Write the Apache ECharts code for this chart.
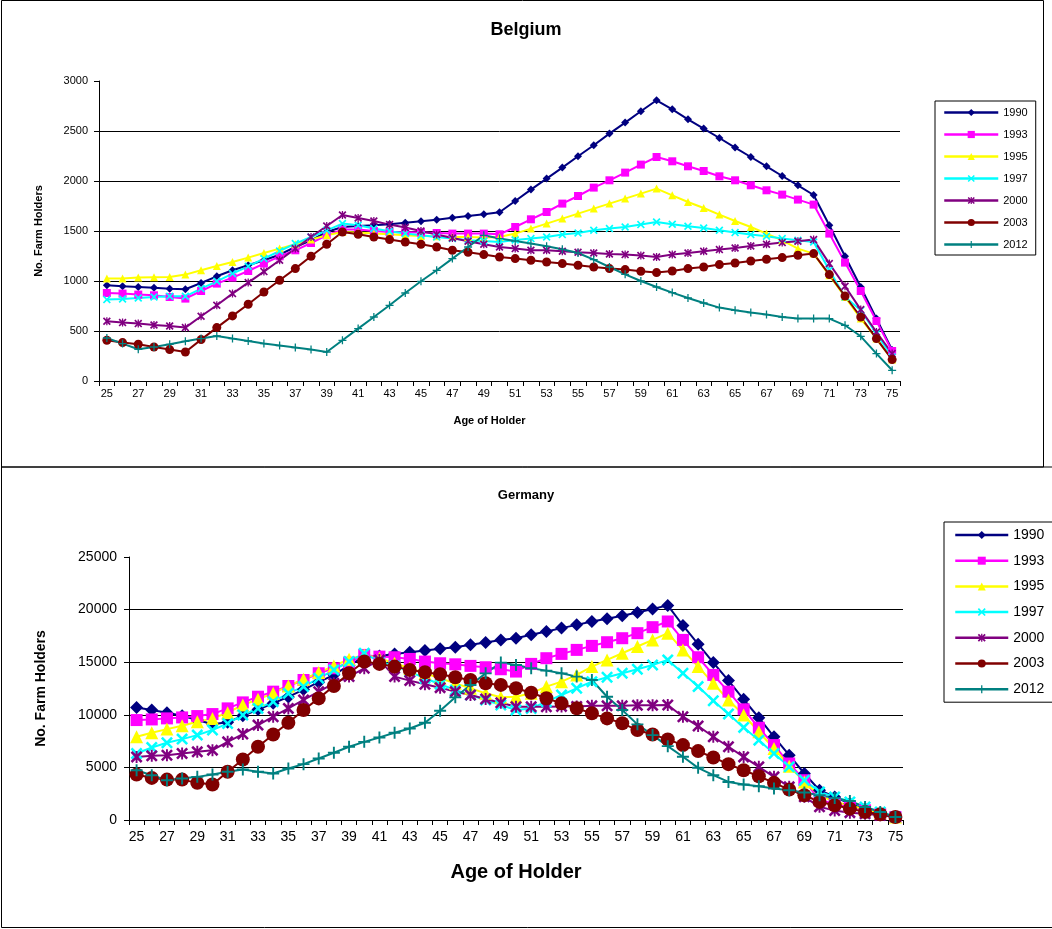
<!DOCTYPE html>
<html>
<head>
<meta charset="utf-8">
<script src="https://cdn.jsdelivr.net/npm/echarts@6/dist/echarts.min.js"></script>
<style>
html,body{margin:0;padding:0;background:#fff;}
#main{width:1052px;height:929px;}
</style>
</head>
<body>
<div id="main"></div>
<script>
// ---- Data ----
var ages = [];
for (var a = 25; a <= 75; a++) ages.push(String(a));
var seriesNames = ['1990', '1993', '1995', '1997', '2000', '2003', '2012'];

var be1990 = [957,947,940,933,923,917, 980,1047,1107,1157,1207,1263,1340,1407,1490, 1540,1550,1557,1567,1583,1597,1613,1633,1650,1667,1687, 1800,1914,2024,2134,2247,2357,2474,2584,2697,2807, 2717,2617,2524,2430,2334,2240,2147,2050,1957,1860, 1557,1247,940,624,310];
var be1993 = [880,874,864,857,840,824, 900,974,1034,1100,1174,1247,1307,1380,1457, 1514,1514,1500,1490,1487,1484,1480,1474,1474,1474,1467, 1540,1617,1690,1774,1850,1934,2007,2084,2164,2240, 2197,2147,2100,2047,2007,1957,1907,1864,1814,1764, 1474,1184,900,600,300];
var be1995 = [1024,1024,1034,1037,1040,1064, 1107,1150,1190,1234,1280,1324,1367,1414,1457, 1490,1484,1474,1467,1457,1450,1447,1440,1440,1434,1440, 1474,1524,1574,1624,1674,1724,1774,1824,1874,1924, 1857,1790,1730,1664,1600,1540,1474,1407,1324,1274, 1057,840,624,424,214];
var be1997 = [814,820,830,840,847,847, 924,997,1074,1147,1224,1300,1374,1440,1507, 1574,1557,1524,1497,1474,1457,1440,1424,1407,1400,1390, 1410,1424,1440,1464,1480,1507,1524,1540,1564,1590, 1567,1547,1530,1507,1484,1464,1447,1424,1407,1390, 1107,840,707,474,240];
var be2000 = [597,584,574,560,550,534, 647,757,874,984,1094,1207,1324,1440,1550, 1660,1630,1600,1564,1534,1500,1464,1430,1397,1367,1340, 1324,1307,1307,1297,1287,1280,1270,1264,1254,1240, 1264,1280,1297,1314,1330,1350,1367,1384,1397,1414, 1174,947,714,490,274];
var be2003 = [407,384,367,340,314,290, 414,534,651,767,890,1007,1124,1247,1367, 1490,1467,1440,1414,1390,1367,1340,1307,1287,1264,1240, 1224,1207,1190,1174,1157,1140,1124,1114,1097,1084, 1100,1124,1140,1164,1180,1200,1217,1234,1257,1274, 1064,850,640,424,214];
var be2012 = [430,374,317,340,367,397, 424,450,424,400,374,354,334,314,290, 407,524,640,757,880,997,1107,1224,1340,1457,1424, 1400,1374,1347,1317,1280,1214,1140,1067,1000,940, 884,830,780,734,707,684,664,640,624,624, 624,557,447,274,107];

var de1990 = [10700,10450,10200,9900,9500,9100, 9300,9900,10500,11100,11700,12400,13100,13800,14700, 15500,15600,15790,15950,16110,16270,16420,16650,16870,17120,17280, 17600,17920,18240,18550,18870,19130,19410,19730,20050,20400, 18490,16710,14960,13250,11470,9720,7910,6160,4420,2830, 2190,1560,1080,600,290];
var de1993 = [9500,9560,9660,9750,9880,10070, 10610,11180,11720,12200,12740,13310,13950,14420,14960, 15690,15530,15470,15310,15060,14900,14800,14650,14520,14330,14110, 14840,15380,15790,16170,16550,16900,17280,17760,18330,18870, 17120,15470,13790,12200,10520,8770,7120,5370,3780,1870, 1560,1240,920,540,290];
var de1995 = [7910,8290,8640,8960,9340,9660, 10200,10930,11470,12040,12740,13380,14010,14650,15280, 15690,15380,14900,14420,13950,13470,12990,12520,12040,11660,11720, 12040,12680,13150,13790,14580,15220,15850,16490,17120,17760, 16170,14580,12990,11410,9980,8390,6800,5120,3620,2350, 1720,1400,990,670,290];
var de1997 = [6320,6890,7340,7690,8070,8550, 9180,9980,10610,11250,12040,12680,13470,14270,15060, 15850,15060,14650,14110,13470,12900,12360,11880,11410,10930,10450, 10610,11250,11880,12520,13150,13570,13950,14330,14740,15220, 13950,12680,11340,10070,8800,7590,6320,5050,3780,2670, 2190,1720,1240,760,290];
var de2000 = [6000,6100,6160,6320,6480,6640, 7430,8170,9020,9820,10610,11410,12200,12990,13630, 14420,15200,13630,13250,12900,12580,12200,11880,11500,11150,10770, 10770,10770,10800,10800,10850,10850,10850,10900,10900,10930, 9820,8930,7910,6960,6000,5050,4100,3150,2200,1250, 900,700,600,450,290];
var de2003 = [4320,4000,3840,3840,3530,3370, 4580,5750,6960,8130,9250,10450,11560,12740,13950, 15060,14840,14580,14270,14050,13860,13570,13310,13000,12840,12520, 12100,11570,11090,10620,10140,9660,9190,8550,8130,7660, 7120,6550,5940,5310,4730,4160,3530,2890,2350,1720, 1400,1080,760,540,290];
var de2012 = [4730,4260,3780,3940,4100,4320, 4580,4800,4580,4420,4890,5310,5850,6390,6960, 7430,7850,8290,8700,9240,10390,11660,12830,13940,14960, 14740,14420,14200,13940,13630,13310,11720,10450,9090,8070,7020, 6010,4960,4260,3620,3370,3210,2990,2830,2610,2350, 2100,1810,1240,760,290];

var belgiumData = [be1990, be1993, be1995, be1997, be2000, be2003, be2012];
var germanyData = [de1990, de1993, de1995, de1997, de2000, de2003, de2012];

// ---- Styles ----
var colors = ['#000080', '#FF00FF', '#FFFF00', '#00FFFF', '#800080', '#800000', '#008080'];
var xPath = 'path://M0,1.5L1.5,0L5,3.5L8.5,0L10,1.5L6.5,5L10,8.5L8.5,10L5,6.5L1.5,10L0,8.5L3.5,5Z';
var starPath = 'path://M0,1.5L1.5,0L5,3.5L8.5,0L10,1.5L6.5,5L10,8.5L8.5,10L5,6.5L1.5,10L0,8.5L3.5,5ZM4.2,0H5.8V10H4.2Z';
var plusPath = 'path://M4.2,0H5.8V4.2H10V5.8H5.8V10H4.2V5.8H0V4.2H4.2Z';
var symbols = ['diamond', 'rect', 'triangle', xPath, starPath, 'circle', plusPath];
var beSizes = [8, 8, 8, 8, 8, 9, 8];
var deSizes = [13, 12, 13, 12, 12, 14, 12];
var FONT = 'Liberation Sans, Arial, sans-serif';

var series = [];
seriesNames.forEach(function (n, i) {
  series.push({
    name: n, type: 'line', xAxisIndex: 0, yAxisIndex: 0,
    data: belgiumData[i], symbol: symbols[i], symbolSize: beSizes[i],
    showAllSymbol: true, color: colors[i],
    lineStyle: { width: 2, color: colors[i] },
    itemStyle: { color: colors[i] }, animation: false
  });
});
seriesNames.forEach(function (n, i) {
  series.push({
    name: n, type: 'line', xAxisIndex: 1, yAxisIndex: 1,
    data: germanyData[i], symbol: symbols[i], symbolSize: deSizes[i],
    showAllSymbol: true, color: colors[i],
    lineStyle: { width: 2, color: colors[i] },
    itemStyle: { color: colors[i] }, animation: false
  });
});

function plainNum(v) { return String(v); }

function xAxisCfg(gridIndex, fs, nameFs, nameGap, margin, namePad) {
  return {
    type: 'category', gridIndex: gridIndex, data: ages, boundaryGap: true,
    name: 'Age of Holder', nameLocation: 'middle', nameGap: nameGap,
    nameTextStyle: { fontFamily: FONT, fontWeight: 'bold', fontSize: nameFs, color: '#000', padding: namePad },
    axisLine: { lineStyle: { color: '#000', width: 1 } },
    axisTick: { show: true, interval: 0, length: 5, lineStyle: { color: '#000' } },
    axisLabel: { interval: 1, fontFamily: FONT, fontSize: fs, color: '#000', margin: margin },
    splitLine: { show: false }
  };
}
function yAxisCfg(gridIndex, max, interval, fs, nameFs, nameGap, margin) {
  return {
    type: 'value', gridIndex: gridIndex, min: 0, max: max, interval: interval,
    name: 'No. Farm Holders', nameLocation: 'middle', nameGap: nameGap, nameRotate: 90,
    nameTextStyle: { fontFamily: FONT, fontWeight: 'bold', fontSize: nameFs, color: '#000' },
    axisLine: { show: true, lineStyle: { color: '#000', width: 1 } },
    axisTick: { show: true, length: 5, lineStyle: { color: '#000' } },
    axisLabel: { fontFamily: FONT, fontSize: fs, color: '#000', margin: margin, formatter: plainNum },
    splitLine: { show: true, showMaxLine: false, lineStyle: { color: '#000', width: 1 } }
  };
}

var option = {
  backgroundColor: '#fff',
  animation: false,
  title: [
    { text: 'Belgium', left: 'center', top: 16, textStyle: { fontFamily: FONT, fontWeight: 'bold', fontSize: 18, color: '#000' } },
    { text: 'Germany', left: 'center', top: 484, textStyle: { fontFamily: FONT, fontWeight: 'bold', fontSize: 13, color: '#000' } }
  ],
  legend: [
    {
      orient: 'vertical', left: 935, top: 101, data: seriesNames,
      itemWidth: 54, itemHeight: 9, itemGap: 11,
      padding: [6, 8, 5, 8],
      borderColor: '#000', borderWidth: 1,
      lineStyle: { width: 2.5 },
      textStyle: { fontFamily: FONT, fontSize: 11, color: '#000' },
      selectedMode: false
    },
    {
      orient: 'vertical', left: 944, top: 522, data: seriesNames,
      itemWidth: 53, itemHeight: 10, itemGap: 11.7,
      padding: [6, 10, 6, 10],
      borderColor: '#000', borderWidth: 1,
      lineStyle: { width: 2.5 },
      textStyle: { fontFamily: FONT, fontSize: 14, color: '#000' },
      selectedMode: false
    }
  ],
  grid: [
    { left: 99, top: 81, width: 801, height: 300, containLabel: false },
    { left: 129, top: 557, width: 774, height: 263, containLabel: false }
  ],
  xAxis: [
    xAxisCfg(0, 11, 11, 34, 7, [0, 20, 0, 0]),
    xAxisCfg(1, 14, 20, 42, 10, [0, 0, 0, 0])
  ],
  yAxis: [
    yAxisCfg(0, 3000, 500, 11, 11, 55, 11),
    yAxisCfg(1, 25000, 5000, 14, 14, 81, 12)
  ],
  graphic: [
    { type: 'rect', shape: { x: 1.5, y: 0.5, width: 1042, height: 466.5 }, style: { fill: 'none', stroke: '#000', lineWidth: 1 }, silent: true, z: -1 },
    { type: 'rect', shape: { x: 1.5, y: 467, width: 1080, height: 460.5 }, style: { fill: 'none', stroke: '#000', lineWidth: 1 }, silent: true, z: -1 }
  ],
  series: series
};

var chart = echarts.init(document.getElementById('main'), null, { renderer: 'canvas' });
chart.setOption(option);
</script>
</body>
</html>
